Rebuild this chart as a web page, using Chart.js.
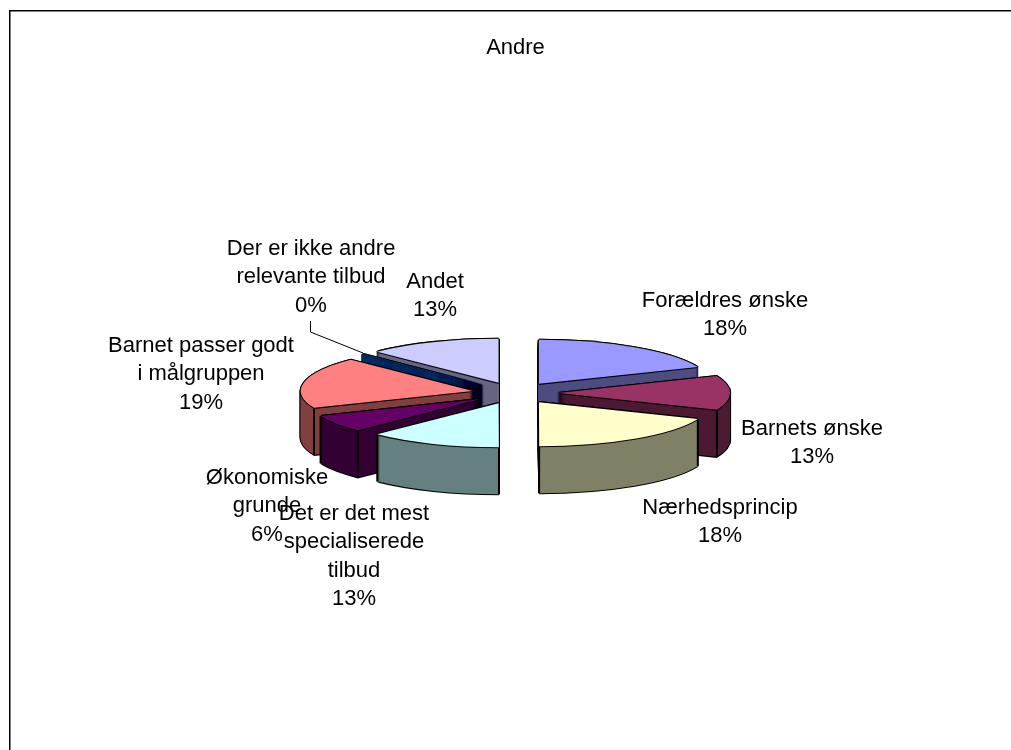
<!DOCTYPE html>
<html>
<head>
<meta charset="utf-8">
<title>Andre</title>
<script src="https://cdn.jsdelivr.net/npm/chart.js@4/dist/chart.umd.js"></script>
<style>
  html, body { margin: 0; padding: 0; background: #fff; }
  #wrap { width: 1011px; height: 750px; }
</style>
</head>
<body>
<div id="wrap"><canvas id="chart"></canvas></div>
<script>
// Chart data
const chartTitle = 'Andre';
const categories = [
  ['Forældres ønske'],
  ['Barnets ønske'],
  ['Nærhedsprincip'],
  ['Det er det mest', 'specialiserede', 'tilbud'],
  ['Økonomiske', 'grunde'],
  ['Barnet passer godt', 'i målgruppen'],
  ['Der er ikke andre', 'relevante tilbud'],
  ['Andet']
];
const shares = [18.75, 12.5, 18.75, 12.5, 6.25, 18.75, 0.05, 12.5];
const shareLabels = ['18%', '13%', '18%', '13%', '6%', '19%', '0%', '13%'];

// Colours of the top faces and the sides
const topColors = ['#9999ff', '#993366', '#ffffcc', '#ccffff', '#660066', '#ff8080', '#0066cc', '#ccccff'];
const sideColors = ['#4d4d80', '#4d1a33', '#808066', '#668080', '#330033', '#804040', '#003366', '#666680'];

// Where each label block sits (centre x, middle y of first line)
const labelSpots = [[725, 301], [812, 429], [720, 508], [354, 514], [267, 478], [201, 346], [311, 249], [435, 282]];

const pieCentre = { x: 515, y: 393 };
const squash = 0.256;
const depth = 47;
const explode = 43;
const lineHeight = 28.3;
const edge = 1.1;

// Draw one arc element with the 3D transform applied
function paintArc(ctx, arc, color, dx, dy) {
  const mid = (arc.startAngle + arc.endAngle) / 2;
  const saved = arc.options;
  arc.options = Object.assign({}, saved, { backgroundColor: color, borderWidth: 0 });
  ctx.save();
  ctx.translate(pieCentre.x + Math.cos(mid) * explode + dx, pieCentre.y + Math.sin(mid) * explode * squash + dy);
  ctx.scale(1, squash);
  ctx.translate(-arc.x, -arc.y);
  arc.draw(ctx);
  ctx.restore();
  arc.options = saved;
}

function paintOutline(ctx, arc, dy) {
  paintArc(ctx, arc, '#000', -edge, dy);
  paintArc(ctx, arc, '#000', edge, dy);
  paintArc(ctx, arc, '#000', 0, dy - edge);
  paintArc(ctx, arc, '#000', 0, dy + edge);
}

// Vertical edges at rim corners on the front half of the pie
function paintEdges(ctx, arc) {
  const mid = (arc.startAngle + arc.endAngle) / 2;
  const ox = pieCentre.x + Math.cos(mid) * explode;
  const oy = pieCentre.y + Math.sin(mid) * explode * squash;
  const r = arc.outerRadius;
  ctx.save();
  ctx.strokeStyle = '#000';
  ctx.lineWidth = 1.8;
  [arc.startAngle, arc.endAngle].forEach(function(a) {
    if (Math.sin(a) <= 0) return;
    const x = ox + Math.cos(a) * r;
    const y = oy + Math.sin(a) * r * squash;
    ctx.beginPath();
    ctx.moveTo(x, y);
    ctx.lineTo(x, y + depth);
    ctx.stroke();
  });
  ctx.restore();
}

const pie3d = {
  id: 'pie3d',
  beforeDatasetsDraw(chart) {
    const ctx = chart.ctx;
    const arcs = chart.getDatasetMeta(0).data.slice();
    // back slices first
    arcs.sort(function(a, b) {
      const am = (a.startAngle + a.endAngle) / 2;
      const bm = (b.startAngle + b.endAngle) / 2;
      return Math.sin(am) - Math.sin(bm);
    });
    arcs.forEach(function(arc) {
      const i = chart.getDatasetMeta(0).data.indexOf(arc);
      // the near-empty slice is a sliver, it needs a finer sweep to fill its side
      const sliver = arc.circumference < 0.1;
      const step = sliver ? 0.05 : 1;
      for (let d = depth; d >= 0; d -= step) paintOutline(ctx, arc, d);
      for (let d = depth; d >= step; d -= step) {
        paintArc(ctx, arc, sideColors[i], 0, d);
        if (sliver) {
          paintArc(ctx, arc, sideColors[i], -0.5, d);
          paintArc(ctx, arc, sideColors[i], 0.5, d);
        }
      }
      paintEdges(ctx, arc);
      paintOutline(ctx, arc, 0);
      paintArc(ctx, arc, topColors[i], 0, 0);
    });
    return false;
  }
};

const pieLabels = {
  id: 'pieLabels',
  afterDraw(chart) {
    const ctx = chart.ctx;
    ctx.save();
    // frame, the right and bottom sides fall outside the picture
    ctx.strokeStyle = '#000';
    ctx.lineWidth = 1.5;
    ctx.beginPath();
    ctx.moveTo(9.75, 760);
    ctx.lineTo(9.75, 10.75);
    ctx.lineTo(1020, 10.75);
    ctx.stroke();
    // leader line of the 0% slice
    ctx.lineWidth = 1;
    ctx.beginPath();
    ctx.moveTo(310.5, 321);
    ctx.lineTo(310.5, 332);
    ctx.lineTo(363, 353);
    ctx.stroke();
    ctx.fillStyle = '#000';
    ctx.font = '22px "Liberation Sans", Arial, sans-serif';
    ctx.textAlign = 'center';
    ctx.textBaseline = 'middle';
    categories.forEach(function(lines, i) {
      lines.concat(shareLabels[i]).forEach(function(line, n) {
        ctx.fillText(line, labelSpots[i][0], labelSpots[i][1] + n * lineHeight);
      });
    });
    ctx.restore();
  }
};

new Chart(document.getElementById('chart'), {
  type: 'pie',
  data: {
    labels: categories.map(function(c) { return c.join(' '); }),
    datasets: [{
      data: shares,
      backgroundColor: topColors,
      borderWidth: 0,
      radius: 172
    }]
  },
  options: {
    responsive: true,
    maintainAspectRatio: false,
    animation: false,
    layout: { padding: { left: 20, top: 25 } },
    plugins: {
      legend: { display: false },
      tooltip: { enabled: false },
      title: {
        display: true,
        text: chartTitle,
        color: '#000',
        font: { family: '"Liberation Sans", Arial, sans-serif', size: 22, weight: 'normal' }
      }
    }
  },
  plugins: [pie3d, pieLabels]
});
</script>
</body>
</html>
